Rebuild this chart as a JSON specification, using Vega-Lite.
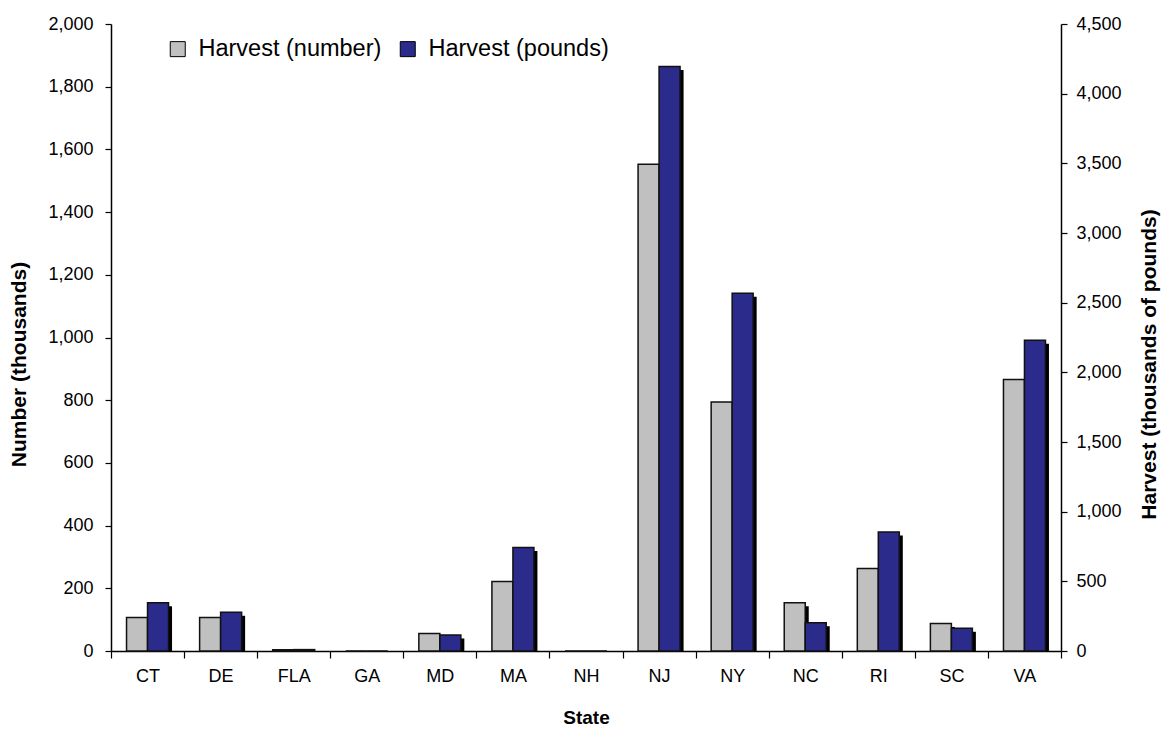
{
  "$schema": "https://vega.github.io/schema/vega-lite/v6.json",
  "width": 950,
  "height": 627,
  "autosize": {"type": "none"},
  "padding": {"left": 111, "top": 24, "right": 102, "bottom": 79},
  "background": "white",
  "config": {
    "view": {"stroke": null},
    "font": "Liberation Sans",
    "axis": {
      "domainColor": "black",
      "domainWidth": 1.5,
      "tickColor": "black",
      "tickWidth": 1.2,
      "tickSize": 6,
      "labelColor": "black",
      "labelFont": "Liberation Sans",
      "labelFontSize": 18,
      "titleFont": "Liberation Sans",
      "titleFontSize": 19,
      "titleFontWeight": "bold",
      "titleColor": "black",
      "grid": false
    }
  },
  "data": {
    "values": [
      {"state": "CT", "series": "Harvest (number)", "value": 107},
      {"state": "DE", "series": "Harvest (number)", "value": 107},
      {"state": "FLA", "series": "Harvest (number)", "value": 4},
      {"state": "GA", "series": "Harvest (number)", "value": 0},
      {"state": "MD", "series": "Harvest (number)", "value": 56},
      {"state": "MA", "series": "Harvest (number)", "value": 222},
      {"state": "NH", "series": "Harvest (number)", "value": 0},
      {"state": "NJ", "series": "Harvest (number)", "value": 1553},
      {"state": "NY", "series": "Harvest (number)", "value": 794},
      {"state": "NC", "series": "Harvest (number)", "value": 154},
      {"state": "RI", "series": "Harvest (number)", "value": 263},
      {"state": "SC", "series": "Harvest (number)", "value": 88},
      {"state": "VA", "series": "Harvest (number)", "value": 866},
      {"state": "CT", "series": "Harvest (pounds)", "value": 347},
      {"state": "DE", "series": "Harvest (pounds)", "value": 278},
      {"state": "FLA", "series": "Harvest (pounds)", "value": 10},
      {"state": "GA", "series": "Harvest (pounds)", "value": 0},
      {"state": "MD", "series": "Harvest (pounds)", "value": 115},
      {"state": "MA", "series": "Harvest (pounds)", "value": 742},
      {"state": "NH", "series": "Harvest (pounds)", "value": 0},
      {"state": "NJ", "series": "Harvest (pounds)", "value": 4195},
      {"state": "NY", "series": "Harvest (pounds)", "value": 2568},
      {"state": "NC", "series": "Harvest (pounds)", "value": 203},
      {"state": "RI", "series": "Harvest (pounds)", "value": 854},
      {"state": "SC", "series": "Harvest (pounds)", "value": 163},
      {"state": "VA", "series": "Harvest (pounds)", "value": 2230}
    ]
  },
  "encoding": {
    "x": {
      "field": "state",
      "type": "nominal",
      "scale": {
        "domain": ["CT", "DE", "FLA", "GA", "MD", "MA", "NH", "NJ", "NY", "NC", "RI", "SC", "VA"],
        "paddingInner": 0,
        "paddingOuter": 0
      },
      "axis": {
        "title": "State",
        "labelAngle": 0,
        "tickBand": "extent",
        "tickSize": 7,
        "labelPadding": 9,
        "titlePadding": 23
      }
    }
  },
  "layer": [
    {
      "transform": [{"filter": "datum.series === 'Harvest (number)'"}],
      "encoding": {
        "y": {
          "field": "value",
          "type": "quantitative",
          "scale": {"domain": [0, 2000], "nice": false},
          "axis": {
            "title": "Number (thousands)",
            "orient": "left",
            "values": [0, 200, 400, 600, 800, 1000, 1200, 1400, 1600, 1800, 2000],
            "format": ",.0f",
            "labelPadding": 12,
            "titlePadding": 18,
            "titleFontSize": 21,
            "titleY": 340
          }
        }
      },
      "layer": [
        {
          "mark": {"type": "bar", "color": "black", "width": 21, "xOffset": -7, "yOffset": 3.5, "clip": true}
        },
        {
          "mark": {"type": "bar", "width": 21, "xOffset": -10.5, "stroke": "#111111", "strokeWidth": 1.5},
          "encoding": {
            "color": {
              "field": "series",
              "type": "nominal",
              "scale": {"domain": ["Harvest (number)", "Harvest (pounds)"], "range": ["#c0c0c0", "#2b2b8c"]},
              "legend": {
                "title": null,
                "orient": "none",
                "direction": "horizontal",
                "legendX": 55,
                "legendY": 13,
                "padding": 0,
                "symbolType": "square",
                "symbolSize": 225,
                "symbolStrokeColor": "black",
                "symbolStrokeWidth": 1,
                "symbolOpacity": 1,
                "labelFont": "Liberation Sans",
                "labelFontSize": 23.5,
                "labelColor": "black",
                "labelOffset": 9,
                "columnPadding": 14,
                "labelLimit": 400
              }
            }
          }
        }
      ]
    },
    {
      "transform": [{"filter": "datum.series === 'Harvest (pounds)'"}],
      "encoding": {
        "y": {
          "field": "value",
          "type": "quantitative",
          "scale": {"domain": [0, 4500], "nice": false},
          "axis": {
            "title": "Harvest (thousands of pounds)",
            "orient": "right",
            "values": [0, 500, 1000, 1500, 2000, 2500, 3000, 3500, 4000, 4500],
            "format": ",.0f",
            "labelPadding": 9,
            "titlePadding": 38,
            "titleAngle": 270,
            "titleFontSize": 21,
            "titleY": 340
          }
        }
      },
      "layer": [
        {
          "mark": {"type": "bar", "color": "black", "width": 21, "xOffset": 14, "yOffset": 3.5, "clip": true}
        },
        {
          "mark": {"type": "bar", "width": 21, "xOffset": 10.5, "stroke": "#111111", "strokeWidth": 1.5},
          "encoding": {
            "color": {
              "field": "series",
              "type": "nominal",
              "scale": {"domain": ["Harvest (number)", "Harvest (pounds)"], "range": ["#c0c0c0", "#2b2b8c"]},
              "legend": {
                "title": null,
                "orient": "none",
                "direction": "horizontal",
                "legendX": 55,
                "legendY": 13,
                "padding": 0,
                "symbolType": "square",
                "symbolSize": 225,
                "symbolStrokeColor": "black",
                "symbolStrokeWidth": 1,
                "symbolOpacity": 1,
                "labelFont": "Liberation Sans",
                "labelFontSize": 23.5,
                "labelColor": "black",
                "labelOffset": 9,
                "columnPadding": 14,
                "labelLimit": 400
              }
            }
          }
        }
      ]
    }
  ],
  "resolve": {"scale": {"y": "independent"}}
}
